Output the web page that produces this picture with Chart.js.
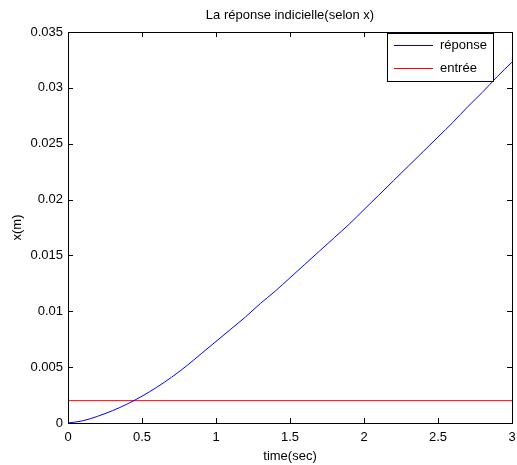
<!DOCTYPE html>
<html>
<head>
<meta charset="utf-8">
<script src="https://cdn.jsdelivr.net/npm/chart.js@4/dist/chart.umd.min.js"></script>
<style>
  html, body { margin: 0; padding: 0; background: #fff; }
  #wrap { width: 517px; height: 465px; }
</style>
</head>
<body>
<div id="wrap"><canvas id="my-chart" width="517" height="465"></canvas></div>
<script>
'use strict';

// *********** DATA ****************

let timeSec = [0, 0.1, 0.2, 0.3, 0.4, 0.5, 0.6, 0.7, 0.8, 0.9, 1.0,
  1.1, 1.2, 1.3, 1.4, 1.5, 1.6, 1.7, 1.8, 1.9, 2.0,
  2.1, 2.2, 2.3, 2.4, 2.5, 2.6, 2.7, 2.8, 2.9, 3.0];

let reponse = [0, 0.0002, 0.0006, 0.0011, 0.0017, 0.0024, 0.0032, 0.0041, 0.0051, 0.0062, 0.0073,
  0.0084, 0.0095, 0.0107, 0.0118, 0.0130, 0.0142, 0.0154, 0.0166, 0.0178, 0.0191,
  0.0204, 0.0217, 0.0230, 0.0243, 0.0256, 0.0269, 0.0283, 0.0296, 0.0310, 0.0323];

let entree = [0.002, 0.002];
let entreeTime = [0, 3];

let xTicks = [0, 0.5, 1, 1.5, 2, 2.5, 3];
let xTickLabels = ['0', '0.5', '1', '1.5', '2', '2.5', '3'];
let yTicks = [0, 0.005, 0.01, 0.015, 0.02, 0.025, 0.03, 0.035];
let yTickLabels = ['0', '0.005', '0.01', '0.015', '0.02', '0.025', '0.03', '0.035'];

let seriesNames = ['réponse', 'entrée'];
let seriesColors = ['#0000ff', '#ff0000'];
let chartTitle = 'La réponse indicielle(selon x)';

// ********** HELPERS ********************

function toPoints(xs, ys) {
  let pts = [];
  for (let i = 0; i < xs.length; i++) {
    pts.push({ x: xs[i], y: ys[i] });
  }
  return pts;
}

function labelFor(ticks, labels, value) {
  for (let i = 0; i < ticks.length; i++) {
    if (Math.abs(ticks[i] - value) < 1e-9) {
      return labels[i];
    }
  }
  return '';
}

const FONT = 'Liberation Sans, Arial, Helvetica, sans-serif';
const FSIZE = 13;

// box + inside ticks on all four sides, matlab style, plus title and legend
let boxPlugin = {
  id: 'boxPlugin',
  afterDraw(chart) {
    let c = chart.ctx;
    let a = chart.chartArea;
    let xs = chart.scales.x;
    let ys = chart.scales.y;
    let len = 5;
    let x0 = Math.round(a.left);
    let x1 = Math.round(a.right);
    let y0 = Math.round(a.top);
    let y1 = Math.round(a.bottom);
    c.save();
    c.fillStyle = '#000';
    for (let i = 0; i < xTicks.length; i++) {
      let px = Math.round(xs.getPixelForValue(xTicks[i]));
      c.fillRect(px, y1 - len, 1, len);
      c.fillRect(px, y0, 1, len);
    }
    for (let i = 0; i < yTicks.length; i++) {
      let py = Math.round(ys.getPixelForValue(yTicks[i]));
      c.fillRect(x0, py, len, 1);
      c.fillRect(x1 - len, py, len, 1);
    }
    // axes box
    c.fillRect(x0, y0, x1 - x0 + 1, 1);
    c.fillRect(x0, y1, x1 - x0 + 1, 1);
    c.fillRect(x0, y0, 1, y1 - y0 + 1);
    c.fillRect(x1, y0, 1, y1 - y0 + 1);

    // title centred over the axes
    c.font = FSIZE + 'px ' + FONT;
    c.textAlign = 'center';
    c.textBaseline = 'middle';
    c.fillText(chartTitle, (a.left + a.right) / 2, 15);

    // legend box
    let bx = 387, by = 33, bw = 106, bh = 48;
    c.fillStyle = '#fff';
    c.fillRect(bx, by, bw, bh);
    c.strokeStyle = '#000';
    c.lineWidth = 1;
    c.strokeRect(bx + 0.5, by + 0.5, bw, bh);
    c.textAlign = 'left';
    for (let i = 0; i < seriesNames.length; i++) {
      let ly = by + 12 + i * 23;
      c.fillStyle = seriesColors[i];
      c.fillRect(bx + 7, ly, 39, 1);
      c.fillStyle = '#000';
      c.fillText(seriesNames[i], bx + 53, ly + 0.5);
    }
    c.restore();
  }
};

// ********** CHART ***************

let ctx = document.getElementById('my-chart').getContext('2d');

let myChartObj = {
  type: 'scatter',
  data: {
    datasets: [{
      label: seriesNames[0],
      data: toPoints(timeSec, reponse),
      showLine: true,
      borderColor: seriesColors[0],
      borderWidth: 1,
      pointRadius: 0,
      cubicInterpolationMode: 'monotone',
      fill: false
    },
    {
      label: seriesNames[1],
      data: toPoints(entreeTime, entree),
      showLine: true,
      borderColor: seriesColors[1],
      borderWidth: 1,
      pointRadius: 0,
      fill: false
    }]
  },
  options: {
    responsive: false,
    animation: false,
    layout: { padding: { left: 0, right: 5, top: 32, bottom: 0 } },
    plugins: {
      legend: { display: false },
      tooltip: { enabled: false },
      title: { display: false }
    },
    scales: {
      x: {
        type: 'linear',
        min: 0,
        max: 3,
        grid: { display: false, drawTicks: false },
        border: { display: false },
        afterBuildTicks(scale) {
          scale.ticks = xTicks.map(v => ({ value: v }));
        },
        afterFit(scale) {
          scale.height = 42;
          scale.paddingLeft = 0;
          scale.paddingRight = 0;
        },
        ticks: {
          color: '#000',
          padding: 7,
          maxRotation: 0,
          autoSkip: false,
          font: { family: FONT, size: FSIZE },
          callback: v => labelFor(xTicks, xTickLabels, v)
        },
        title: {
          display: true,
          text: 'time(sec)',
          color: '#000',
          font: { family: FONT, size: FSIZE },
          padding: { top: 0, bottom: 1 }
        }
      },
      y: {
        type: 'linear',
        min: 0,
        max: 0.035,
        grid: { display: false, drawTicks: false },
        border: { display: false },
        afterBuildTicks(scale) {
          scale.ticks = yTicks.map(v => ({ value: v }));
        },
        afterFit(scale) {
          scale.width = 68;
          scale.paddingTop = 0;
          scale.paddingBottom = 0;
        },
        ticks: {
          color: '#000',
          padding: 5,
          autoSkip: false,
          font: { family: FONT, size: FSIZE },
          callback: v => labelFor(yTicks, yTickLabels, v)
        },
        title: {
          display: true,
          text: 'x(m)',
          color: '#000',
          font: { family: FONT, size: FSIZE },
          padding: { top: 10, bottom: 0 }
        }
      }
    }
  },
  plugins: [boxPlugin]
};

new Chart(ctx, myChartObj);
</script>
</body>
</html>
